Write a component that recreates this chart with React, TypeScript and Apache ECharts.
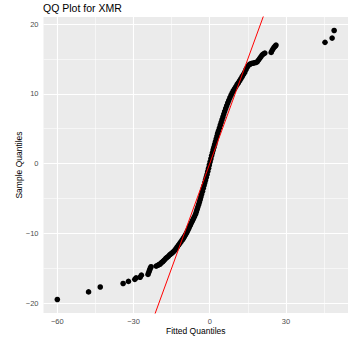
import React, { useEffect, useRef } from "react";
import * as echarts from "echarts";

const TITLE = "QQ Plot for XMR";
const X_NAME = "Fitted Quantiles";
const Y_NAME = "Sample Quantiles";

const X_TICKS = [-60, -30, 0, 30];
const X_MINOR = [-45, -15, 15, 45];
const Y_TICKS = [-20, -10, 0, 10, 20];
const Y_MINOR = [-15, -5, 5, 15];

// [fitted quantile, sample quantile]
const QQ_POINTS: [number, number][] = [
  [-60.0, -19.5], [-47.7, -18.4], [-43.1, -17.7], [-34.1, -17.2], [-32.0, -16.9],
  [-29.5, -16.6], [-29.0, -16.4], [-27.4, -16.3], [-26.9, -16.0], [-24.3, -15.9],
  [-24.0, -15.6], [-23.7, -15.3], [-23.4, -15.0], [-23.1, -14.8], [-21.1, -14.7],
  [-20.5, -14.6], [-20.0, -14.5], [-19.5, -14.4], [-19.0, -14.2], [-18.6, -14.1],
  [-18.2, -13.95], [-17.8, -13.8], [-17.3, -13.6], [-16.8, -13.45], [-16.3, -13.3],
  [-15.8, -13.1], [-15.3, -12.95], [-14.8, -12.8], [-14.3, -12.65], [-13.8, -12.45],
  [-13.3, -12.2], [-12.8, -11.95], [-12.3, -11.7], [-11.8, -11.45], [-11.3, -11.2],
  [-10.8, -10.95], [-10.4, -10.75], [-10.0, -10.5], [-9.6, -10.25], [-9.2, -10.0],
  [-8.8, -9.7], [-8.4, -9.4], [-8.0, -9.1], [-7.6, -8.8], [-7.2, -8.5],
  [-6.8, -8.2], [-6.4, -7.9], [-6.0, -7.6], [-5.6, -7.25], [-5.25, -6.9],
  [-4.95, -6.55], [-4.65, -6.2], [-4.35, -5.85], [-4.05, -5.5], [-3.75, -5.15],
  [-3.45, -4.75], [-3.15, -4.35], [-2.85, -3.95], [-2.55, -3.55], [-2.25, -3.15],
  [-1.95, -2.75], [-1.65, -2.35], [-1.35, -1.95], [-1.05, -1.55], [-0.75, -1.1],
  [-0.45, -0.65], [-0.15, -0.2], [0.15, 0.25], [0.45, 0.7], [0.75, 1.15],
  [1.05, 1.55], [1.35, 1.95], [1.65, 2.35], [1.95, 2.75], [2.25, 3.15],
  [2.55, 3.55], [2.85, 3.95], [3.15, 4.35], [3.45, 4.7], [3.8, 5.1],
  [4.15, 5.5], [4.5, 5.9], [4.85, 6.3], [5.2, 6.7], [5.55, 7.1],
  [5.9, 7.5], [6.3, 7.9], [6.7, 8.3], [7.1, 8.7], [7.5, 9.05],
  [7.95, 9.45], [8.4, 9.8], [8.85, 10.15], [9.3, 10.45], [9.8, 10.75],
  [10.3, 11.05], [10.8, 11.35], [11.3, 11.6], [11.8, 11.9], [12.3, 12.2],
  [12.8, 12.5], [13.3, 12.8], [13.8, 13.1], [14.3, 13.5], [14.8, 13.85],
  [15.3, 14.1], [15.8, 14.25], [16.3, 14.35], [16.9, 14.4], [17.5, 14.45],
  [18.1, 14.5], [18.7, 14.6], [19.2, 14.85], [19.7, 15.1], [20.2, 15.35],
  [20.7, 15.6], [21.2, 15.75], [21.7, 15.85], [24.2, 15.95], [24.6, 16.25],
  [25.0, 16.5], [25.4, 16.7], [25.8, 16.85], [26.1, 17.0], [45.4, 17.4],
  [48.2, 18.0], [49.0, 19.1],
];

// reference line y = x
const REF_LINE: [number, number][] = [[-30, -30], [30, 30]];

const X_RANGE = [-65.45, 54.45];
const Y_RANGE = [-21.43, 21.03];

const FONT = "'Liberation Sans', Arial, Helvetica, sans-serif";
const fmt = (v: number) => String(v).replace("-", "\u2212");

export default function App() {
  const ref = useRef<HTMLDivElement>(null);
  useEffect(() => {
    if (!ref.current) return;
    const chart = echarts.init(ref.current, undefined, { renderer: "svg" });
    const major = { color: "#FFFFFF", width: 1.1, type: "solid" as const };
    const minor = { color: "#FFFFFF", width: 0.55, type: "solid" as const };
    const gridLines = [
      ...X_MINOR.map((v) => ({ xAxis: v, lineStyle: minor })),
      ...Y_MINOR.map((v) => ({ yAxis: v, lineStyle: minor })),
      ...X_TICKS.map((v) => ({ xAxis: v, lineStyle: major })),
      ...Y_TICKS.map((v) => ({ yAxis: v, lineStyle: major })),
    ];
    const axisCommon = {
      type: "value" as const,
      nameLocation: "middle" as const,
      nameMoveOverlap: false,
      nameTextStyle: { fontSize: 8.5, color: "#000", fontFamily: FONT },
      axisLine: { show: false },
      splitLine: { show: false },
    };
    chart.setOption({
      animation: false,
      backgroundColor: "#FFFFFF",
      title: {
        text: TITLE,
        left: 43,
        top: 2,
        padding: 0,
        textStyle: { fontSize: 10.5, fontWeight: "normal", color: "#000", fontFamily: FONT },
      },
      grid: {
        left: 43.5,
        top: 17,
        width: 305,
        height: 297.3,
        show: true,
        backgroundColor: "#EBEBEB",
        borderWidth: 0,
        containLabel: false,
      },
      xAxis: {
        ...axisCommon,
        min: X_RANGE[0],
        max: X_RANGE[1],
        name: X_NAME,
        nameGap: 13,
        axisTick: { show: true, length: 2.7, customValues: X_TICKS, lineStyle: { color: "#333333", width: 1 } },
        axisLabel: { customValues: X_TICKS, formatter: fmt, fontSize: 7.5, color: "#4D4D4D", fontFamily: FONT, margin: 4 },
      },
      yAxis: {
        ...axisCommon,
        min: Y_RANGE[0],
        max: Y_RANGE[1],
        name: Y_NAME,
        nameGap: 20,
        axisTick: { show: true, length: 2.7, customValues: Y_TICKS, lineStyle: { color: "#333333", width: 1 } },
        axisLabel: { customValues: Y_TICKS, formatter: fmt, fontSize: 7.5, color: "#4D4D4D", fontFamily: FONT, margin: 5 },
      },
      series: [
        {
          type: "line",
          data: [],
          z: 1,
          silent: true,
          markLine: {
            silent: true,
            symbol: "none",
            animation: false,
            z: 1,
            label: { show: false },
            data: gridLines,
          },
        },
        {
          type: "scatter",
          data: QQ_POINTS,
          symbol: "circle",
          symbolSize: 5.6,
          itemStyle: { color: "#000000", opacity: 1 },
          z: 3,
          silent: true,
        },
        {
          type: "line",
          data: REF_LINE,
          symbol: "none",
          clip: true,
          lineStyle: { color: "#FF0000", width: 1 },
          z: 5,
          silent: true,
        },
      ],
    });
    return () => chart.dispose();
  }, []);
  return (
    <div
      ref={ref}
      style={{ position: "fixed", left: 0, top: 0, width: 348, height: 340 }}
    />
  );
}
